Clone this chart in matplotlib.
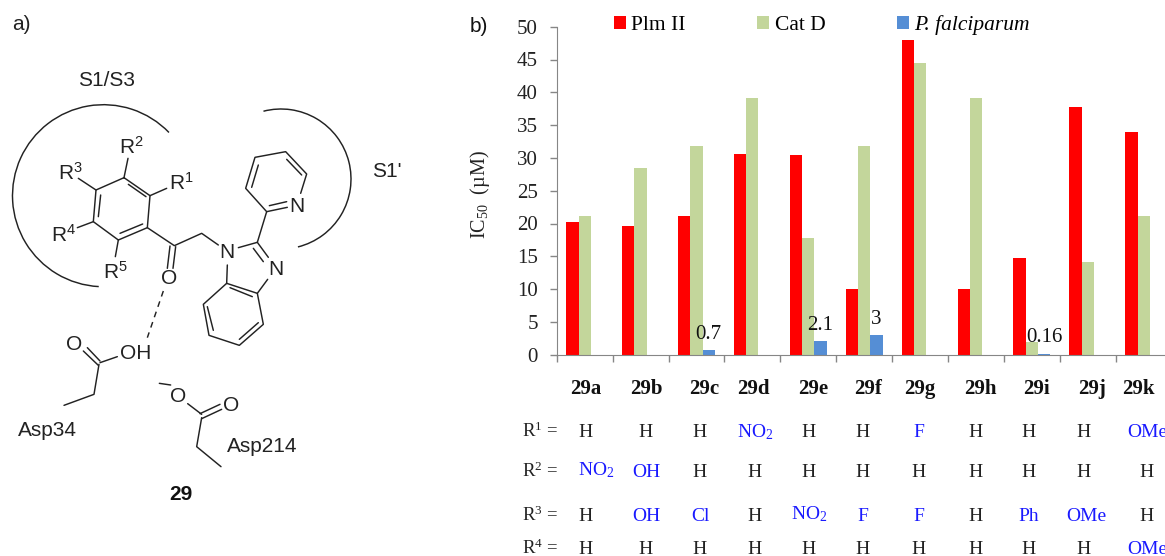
import matplotlib
matplotlib.use('Agg')
import matplotlib.pyplot as plt
from matplotlib.patches import Arc

plt.rcParams['mathtext.default'] = 'regular'

W, H = 1165, 556
SERIF = 'Liberation Serif'
SANS = 'Liberation Sans'

compounds = ['29a', '29b', '29c', '29d', '29e', '29f', '29g', '29h', '29i', '29j', '29k']
plm2 = [20.3, 19.6, 21.1, 30.6, 30.5, 10, 48, 10, 14.7, 37.7, 34]
catd = [21.1, 28.5, 31.8, 39.2, 17.8, 31.8, 44.5, 39.2, 2, 14.2, 21.1]
pfal = [0, 0, 0.7, 0, 2.1, 3, 0, 0, 0.16, 0, 0]
pfal_labels = ['', '', '0.7', '', '2.1', '3', '', '', '0.16', '', '']

NO2 = 'NO$_2$'
r1 = ['H', 'H', 'H', NO2, 'H', 'H', 'F', 'H', 'H', 'H', 'OMe']
r2 = [NO2, 'OH', 'H', 'H', 'H', 'H', 'H', 'H', 'H', 'H', 'H']
r3 = ['H', 'OH', 'Cl', 'H', NO2, 'F', 'F', 'H', 'Ph', 'OMe', 'H']
r4 = ['H', 'H', 'H', 'H', 'H', 'H', 'H', 'H', 'H', 'H', 'OMe']

# pixel places of the table below the chart
label_x = [586, 646, 704, 753, 813, 868, 920, 980, 1036, 1092, 1138]
col_x = [586, 646, 700, 755, 809, 863, 919, 976, 1029, 1084, 1147]
row_base = [437, 477, 521, 554]

# molecule drawing, traced in 3x crop pixels
bonds = [
    # benzene ring
    [(372, 533), (450, 587), (442, 683), (355, 720), (280, 665), (288, 570), (372, 533)],
    [(385, 553), (438, 590)], [(428, 672), (360, 700)], [(302, 585), (295, 650)],
    [(372, 533), (384, 475)], [(450, 587), (500, 565)], [(288, 570), (235, 535)],
    [(280, 665), (232, 683)], [(355, 720), (346, 770)],
    # linker and carbonyl
    [(442, 683), (523, 737), (605, 700), (655, 735)],
    [(510, 738), (502, 805)], [(527, 740), (519, 805)],
    # imidazole
    [(715, 743), (772, 727), (805, 772)], [(760, 745), (790, 785)],
    [(682, 795), (680, 850)],
    # pyridine
    [(772, 727), (800, 635), (737, 565), (765, 472), (857, 455), (920, 522), (902, 580)],
    [(800, 635), (862, 622)], [(808, 617), (860, 605)],
    [(755, 562), (775, 495)], [(860, 478), (905, 525)],
    # fused benzene
    [(680, 850), (772, 880), (790, 973), (718, 1036), (627, 1006), (610, 913), (680, 850)],
    [(690, 863), (757, 890)], [(775, 968), (718, 1018)], [(640, 991), (622, 920)],
    [(772, 880), (803, 838)],
    # Asp34
    [(250, 225 + 828), (295, 268 + 828)], [(262, 215 + 828), (300, 255 + 828)],
    [(300, 260 + 828), (352, 242 + 828)],
    [(297, 265 + 828), (282, 355 + 828), (192, 388 + 828)],
    # Asp214
    [(478, 322 + 828), (512, 327 + 828)],
    [(563, 383 + 828), (605, 415 + 828)],
    [(605, 428 + 828), (665, 400 + 828)], [(600, 413 + 828), (660, 385 + 828)],
    [(605, 425 + 828), (590, 512 + 828), (663, 572 + 828)],
]
hbond = [(490, 873), (442, 1013)]

atoms = [
    ('R$^2$', 395, 440), ('R$^3$', 210, 518), ('R$^1$', 545, 550),
    ('R$^4$', 192, 705), ('R$^5$', 345, 815), ('O', 507, 835),
    ('N', 682, 757), ('N', 828, 808), ('N', 892, 618),
    ('O', 222, 205 + 828), ('OH', 408, 233 + 828),
    ('O', 533, 360 + 828), ('O', 694, 388 + 828),
    ('Asp34', 142, 463 + 828), ('Asp214', 787, 510 + 828),
    ('S1/S3', 320, 243), ("S1'", 1160, 515),
]

fig = plt.figure(figsize=(W / 100, H / 100), dpi=100)

# chart, axis box in pixels: x 556.7 to 1171.6, y 26.7 to 354.7
x0, y0, slot = 556.7, 354.7, 55.9
ax = fig.add_axes([x0 / W, 1 - y0 / H, slot * 11 / W, 328 / H])
ax.patch.set_alpha(0)
pos = [i + 0.5 for i in range(len(compounds))]
bw = 0.22
b1 = ax.bar([p - bw for p in pos], plm2, bw, color='#ff0000', label='Plm II')
b2 = ax.bar(pos, catd, bw, color='#c3d69b', label='Cat D')
b3 = ax.bar([p + bw for p in pos], pfal, bw, color='#558ed5', label='P. falciparum')
ax.bar_label(b3, labels=pfal_labels, padding=4.5, fontsize=15, family=SERIF, color='#111111')

ax.set_xlim(0, 11)
ax.set_ylim(0, 50)
ax.set_yticks(range(0, 51, 5))
ax.set_xticks(range(12))
ax.set_xticklabels([])
for s in ['top', 'right']:
    ax.spines[s].set_visible(False)
for s in ['left', 'bottom']:
    ax.spines[s].set_color('#868686')
ax.tick_params(axis='both', color='#868686', length=5, width=1)
ax.tick_params(axis='y', labelsize=15, pad=8.5, labelcolor='#222222')
for t in ax.get_yticklabels():
    t.set_family(SERIF)

leg = ax.legend(ncol=3, frameon=False, loc='upper left',
                bbox_to_anchor=((614 - x0) / (slot * 11), (y0 - 15.5) / 328),
                borderaxespad=0, borderpad=0,
                handlelength=0.55, handleheight=0.55, handletextpad=0.25,
                columnspacing=3.33, prop={'family': SERIF, 'size': 15.5})
leg.get_texts()[2].set_style('italic')

# overlay in image pixels for the molecule and the table
ov = fig.add_axes([0, 0, 1, 1], zorder=5)
ov.set_xlim(0, W)
ov.set_ylim(H, 0)
ov.axis('off')

for b in bonds:
    ov.plot([p[0] / 3 for p in b], [p[1] / 3 for p in b], color='#222222', lw=1.05,
            solid_capstyle='round', solid_joinstyle='round')
ov.plot([p[0] / 3 for p in hbond], [p[1] / 3 for p in hbond], color='#222222', lw=1.05,
        dashes=(4, 3.5))

ov.add_patch(Arc((103.5, 195.7), 182, 182, theta1=93, theta2=316, color='#222222', lw=1.05))
ov.add_patch(Arc((281, 179), 140, 140, theta1=-104.5, theta2=76, color='#222222', lw=1.05))

for txt, x, y in atoms:
    ov.text(x / 3, y / 3, txt, family=SANS, fontsize=15, ha='center', va='center', color='#222222')
ov.text(181, 494, '29', family=SANS, fontsize=15, fontweight='bold', ha='center', va='center', color='#111111')
ov.text(21, 25, 'a)', family=SANS, fontsize=15, ha='center', va='center', color='#222222')
ov.text(479, 26, 'b)', family=SANS, fontsize=15, ha='center', va='center', color='#111111')

ov.text(480, 195, 'IC$_{50}$  (µM)', family=SERIF, fontsize=14.5, rotation=90,
        ha='center', va='center', color='#222222')

for name, x in zip(compounds, label_x):
    ov.text(x, 394, name, family=SERIF, fontsize=15, fontweight='bold', ha='center', va='baseline', color='#111111')

for i, (row, y) in enumerate(zip([r1, r2, r3, r4], row_base)):
    ov.text(522, y, 'R$^%d$ =' % (i + 1), family=SERIF, fontsize=13.5, ha='left', va='baseline', color='#222222')
    for j, val in enumerate(row):
        x = col_x[j]
        if val == NO2 and i == 1:
            x = 596
        if val == 'OMe' and j == 9:
            x = 1086
        c = '#222222' if val == 'H' else '#1a1aff'
        yy = y - 2 if val == NO2 and i != 0 else y
        ov.text(x, yy, val, family=SERIF, fontsize=14, ha='center', va='baseline', color=c)

fig.savefig('out.png', dpi=100)
